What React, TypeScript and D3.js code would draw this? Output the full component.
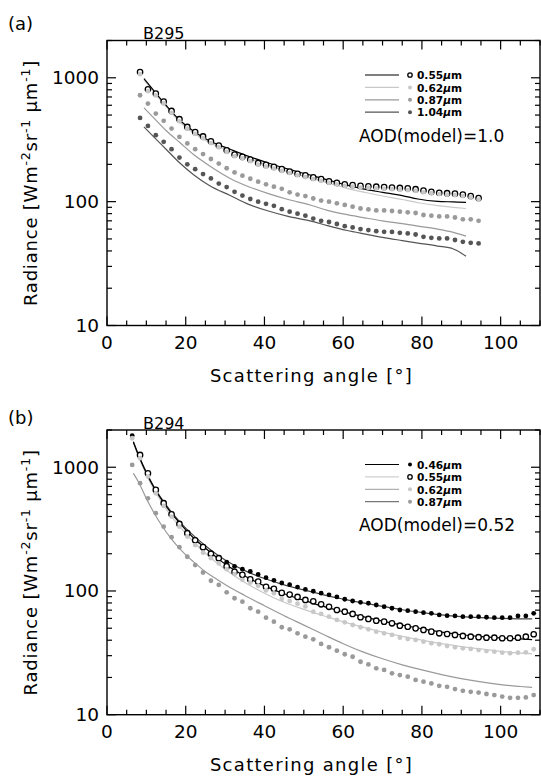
import React from 'react';
import * as d3 from 'd3';

// ---------- Data: panel (a) B295 ----------
const anglesA = [8.4, 10.4, 12.4, 14.4, 16.4, 18.4, 20.4, 22.4, 24.4, 26.4, 28.4, 30.4, 32.4, 34.4, 36.4, 38.4, 40.4, 42.4, 44.4, 46.4, 48.4, 50.4, 52.4, 54.4, 56.4, 58.4, 60.4, 62.4, 64.4, 66.4, 68.4, 70.4, 72.4, 74.4, 76.4, 78.4, 80.4, 82.4, 84.4, 86.4, 88.4, 90.4, 92.4, 94.4];
const obsA055 = [1114, 807, 746, 643, 540, 463, 401, 365, 336, 307, 284, 260, 240, 230, 219, 205, 198, 191, 183, 175, 168, 163, 157, 152, 146, 142, 138, 136, 134, 133, 132, 131, 130, 129, 128, 126, 123, 120, 118, 117, 116, 114, 111, 107];
const obsA062 = [1070, 780, 720, 620, 520, 445, 388, 352, 325, 297, 275, 252, 233, 223, 212, 199, 192, 185, 177, 170, 163, 158, 152, 147, 142, 138, 134, 132, 130, 129, 128, 127, 126, 125, 124, 122, 119, 117, 115, 114, 113, 111, 108, 104];
const obsA087 = [723, 619, 514, 449, 389, 333, 295, 265, 242, 221, 203, 186, 172, 162, 153, 145, 138, 132, 127, 119, 114, 111, 106, 102, 100, 97, 94, 91, 88, 86.5, 85, 85, 84, 83, 82, 81, 78, 77, 76, 76, 74.5, 72, 72, 70];
const obsA104 = [474, 409, 344, 304, 265, 227, 200, 183, 167, 154, 140, 131, 120, 112, 105, 100, 96, 92.5, 87, 83, 80, 77, 73, 70, 68.5, 66, 63.4, 61.9, 60, 58.9, 57.8, 57.1, 57, 56, 55.4, 54.3, 52, 51, 50.5, 50.5, 49, 47.4, 46.5, 46];

const modelAnglesA = [9.4, 12, 15, 18.5, 22, 26, 31.3, 36, 41, 46, 51.6, 56, 61, 66, 70, 75, 79, 84, 88, 91.2];
const modA055 = [986, 780, 600, 454, 370, 310, 265, 232, 205, 183, 164, 150, 136, 125, 119, 112, 105, 100.5, 99.5, 98.6];
const modA062 = [960, 760, 585, 440, 358, 300, 255, 223, 197, 175, 155, 142, 128, 118, 111, 104, 98, 93, 90, 88];
const modA087 = [571, 470, 375, 300, 240, 195, 154, 132, 116, 104, 94, 85, 78.5, 73.5, 70, 66.5, 63.5, 60, 56.5, 52.7];
const modA104 = [401, 330, 265, 205, 165, 135, 112, 95, 84, 76, 70, 64, 58.5, 54.5, 51.5, 48.5, 46.3, 43.8, 41.5, 36.3];

// ---------- Data: panel (b) B294 ----------
const anglesB = [6.4, 8.4, 10.4, 12.4, 14.4, 16.4, 18.4, 20.4, 22.4, 24.4, 26.4, 28.4, 30.4, 32.4, 34.4, 36.4, 38.4, 40.4, 42.4, 44.4, 46.4, 48.4, 50.4, 52.4, 54.4, 56.4, 58.4, 60.4, 62.4, 64.4, 66.4, 68.4, 70.4, 72.4, 74.4, 76.4, 78.4, 80.4, 82.4, 84.4, 86.4, 88.4, 90.4, 92.4, 94.4, 96.4, 98.4, 100.4, 102.4, 104.4, 106.4, 108.4];
const obsB046 = [1800, 1250, 890, 650, 510, 415, 347, 293, 258, 228, 204, 187, 171, 158, 150, 144, 136, 128, 122, 116, 112.5, 107.5, 103, 99.5, 96, 93, 89.5, 85.7, 83, 81, 79.6, 77, 74.7, 72.5, 70.2, 69.3, 68, 66.8, 66, 64, 63.1, 62.8, 62, 62, 62, 61.3, 60.8, 60.8, 60.8, 62.8, 62.8, 66];
const obsB055 = [null, 1257, 894, 656, 512, 417, 348, 293, 257, 226, 200, 184, 158, 143, 135, 124, 119, 108, 104, 96.5, 93.5, 89.5, 84.6, 82.5, 78, 74.5, 70.2, 68, 65.2, 61.3, 59.4, 57.5, 56.5, 54.8, 52.4, 51.4, 49.9, 48.4, 46.9, 45.5, 44.9, 44.1, 43.3, 42.7, 42.3, 41.9, 41.9, 41.5, 41.5, 41.9, 42.7, 44.7];
const obsB062 = [1716, 1183, 840, 616, 487, 399, 331, 275, 235, 204, 184, 167, 150, 137, 123, 117, 110, 101, 95.8, 86, 83, 79, 75, 68, 65.2, 62, 58.3, 55.8, 53.1, 50.9, 49, 46.9, 45.5, 44.1, 41.9, 40.9, 40.2, 38.9, 37.8, 37.1, 35.9, 35.1, 34.4, 34, 33.3, 32.7, 32.3, 31.7, 31.4, 31.7, 31.9, 33.8];
const obsB087 = [1044, 743, 561, 425, 331, 272, 226, 189, 162, 141, 121, 112, 97.6, 87.3, 82, 72.5, 68, 60.8, 56.5, 50.9, 49, 45.5, 42.7, 40.7, 37.3, 35.1, 32.9, 30.8, 29.4, 26.8, 25.5, 23.7, 23, 21.6, 20.9, 20.3, 19.1, 18.5, 17.9, 17.1, 16.8, 16.1, 15.6, 15.3, 15.1, 14.7, 14.4, 14, 13.7, 13.7, 13.8, 14.4];

const modelAnglesB = [6.7, 8, 10, 12, 14, 16, 18, 20, 22, 25, 28, 30, 35, 40, 45, 50, 55, 60, 65, 70, 75, 80, 85, 90, 95, 100, 105, 108];
const modB046 = [1610, 1260, 910, 690, 550, 450, 378, 322, 280, 232, 196, 178, 146, 126, 112, 102, 93, 86, 80, 75, 70.5, 67, 64, 62, 60.8, 60, 59.6, 59.5];
const modB055 = [1600, 1250, 900, 680, 540, 440, 368, 312, 268, 222, 185, 165, 132, 110, 95, 84, 75, 68, 62, 57, 53, 49.5, 46.5, 44.3, 42.7, 41.7, 41, 40.5];
const modB062 = [1560, 1220, 870, 655, 515, 415, 345, 292, 250, 202, 168, 150, 117, 96, 81, 71, 63, 56.5, 51, 46.5, 43, 40, 37.5, 35.5, 34, 32.5, 31.5, 31];
const modB087 = [894, 760, 560, 425, 335, 272, 228, 196, 172, 143, 124, 113, 92, 76, 63, 53, 44.5, 37.5, 32.2, 28.3, 25.3, 23, 21.1, 19.6, 18.4, 17.5, 16.9, 16.6];

// ---------- Axis ticks / labels ----------
const xTickLabels = [0, 20, 40, 60, 80, 100];
const yTickLabels = [10, 100, 1000];
const legendA = ['0.55', '0.62', '0.87', '1.04'];
const legendB = ['0.46', '0.55', '0.62', '0.87'];

const FONT = "'DejaVu Sans', Verdana, sans-serif";
const BLACK = '#000';
const LIGHT = '#c8c8c8';
const MED = '#9a9a9a';
const DARK = '#555';

type Obs = { values: (number | null)[]; kind: 'open' | 'dot'; color: string };
type Mod = { values: number[]; color: string };
type Leg = { label: string; lineColor: string; kind: 'open' | 'dot'; color: string };

interface PanelProps {
  top: number;
  bottom: number;
  tag: string;
  tagY: number;
  name: string;
  nameY: number;
  angles: number[];
  obs: Obs[];
  mAngles: number[];
  mods: Mod[];
  legend: Leg[];
  aod: string;
}

function Marker({ cx, cy, kind, color, r }: { cx: number; cy: number; kind: 'open' | 'dot'; color: string; r?: number }) {
  if (kind === 'open') {
    return <circle cx={cx} cy={cy} r={r ?? 2.7} fill="#fff" stroke={color} strokeWidth={1.3} />;
  }
  return <circle cx={cx} cy={cy} r={r ?? 2.4} fill={color} />;
}

function Panel(p: PanelProps) {
  const left = 107;
  const right = 540;
  const x = d3.scaleLinear().domain([0, 110]).range([left, right]);
  const y = d3.scaleLog().domain([10, 2000]).range([p.bottom, p.top]);
  const line = d3
    .line<number>()
    .x((_, i) => x(p.mAngles[i]))
    .y((d) => y(d))
    .curve(d3.curveMonotoneX);

  const xMinor = d3.range(0, 111, 5);
  const yMinor: number[] = [];
  [10, 100, 1000].forEach((dec) => {
    for (let k = 1; k <= 9; k++) {
      const v = dec * k;
      if (v <= 2000) yMinor.push(v);
    }
  });

  const legX0 = 365;
  const legX1 = 399;
  const legRow0 = p.top + 34.5;
  const legDy = 12.4;

  return (
    <g>
      {p.mods.map((m, i) => (
        <path key={'m' + i} d={line(m.values) || ''} fill="none" stroke={m.color} strokeWidth={1.2} />
      ))}
      {p.obs.map((s, i) => (
        <g key={'o' + i}>
          {s.values.map((v, j) =>
            v == null ? null : (
              <Marker key={j} cx={x(p.angles[j])} cy={y(v)} kind={s.kind} color={s.color} />
            )
          )}
        </g>
      ))}

      <rect x={left} y={p.top} width={right - left} height={p.bottom - p.top} fill="none" stroke="#000" strokeWidth={1.4} />

      {xMinor.map((t) => {
        const len = t % 20 === 0 ? 9 : 5;
        return (
          <g key={'xt' + t}>
            <line x1={x(t)} x2={x(t)} y1={p.bottom} y2={p.bottom - len} stroke="#000" strokeWidth={1.2} />
            <line x1={x(t)} x2={x(t)} y1={p.top} y2={p.top + len} stroke="#000" strokeWidth={1.2} />
          </g>
        );
      })}
      {yMinor.map((v) => {
        const major = v === 10 || v === 100 || v === 1000;
        const len = major ? 9 : 5;
        return (
          <g key={'yt' + v}>
            <line x1={left} x2={left + len} y1={y(v)} y2={y(v)} stroke="#000" strokeWidth={1.2} />
            <line x1={right} x2={right - len} y1={y(v)} y2={y(v)} stroke="#000" strokeWidth={1.2} />
          </g>
        );
      })}

      {xTickLabels.map((t) => (
        <text key={'xl' + t} x={x(t)} y={p.bottom + 23} textAnchor="middle" fontFamily={FONT} fontSize={18.5}>
          {t}
        </text>
      ))}
      {yTickLabels.map((t) => (
        <text key={'yl' + t} x={99} y={y(t) + 6.5} textAnchor="end" fontFamily={FONT} fontSize={18.5}>
          {t}
        </text>
      ))}

      <text x={(left + right) / 2 - 12} y={p.bottom + 56} textAnchor="middle" fontFamily={FONT} fontSize={18} letterSpacing={1.3}>
        Scattering angle [°]
      </text>
      <text
        transform={`translate(37, ${(p.top + p.bottom) / 2}) rotate(-90)`}
        textAnchor="middle"
        fontFamily={FONT}
        fontSize={18}
        letterSpacing={0.8}
      >
        <tspan>Radiance [Wm</tspan>
        <tspan dy={-7} fontSize={12.5}>-2</tspan>
        <tspan dy={7}>sr</tspan>
        <tspan dy={-7} fontSize={12.5}>-1</tspan>
        <tspan dy={7}> μm</tspan>
        <tspan dy={-7} fontSize={12.5}>-1</tspan>
        <tspan dy={7}>]</tspan>
      </text>

      <text x={8} y={p.tagY} fontFamily={FONT} fontSize={18}>
        {p.tag}
      </text>
      <text x={143} y={p.nameY} fontFamily={FONT} fontSize={16}>
        {p.name}
      </text>

      {p.legend.map((l, i) => {
        const ry = legRow0 + i * legDy;
        return (
          <g key={'lg' + i}>
            <line x1={legX0} x2={legX1} y1={ry} y2={ry} stroke={l.lineColor} strokeWidth={1.2} />
            <Marker cx={410} cy={ry} kind={l.kind} color={l.color} r={l.kind === 'open' ? 2.2 : 2} />
            <text x={417} y={ry + 4.2} fontFamily={FONT} fontSize={10.6} fontWeight="bold">
              {l.label}
              <tspan fontStyle="italic">μ</tspan>m
            </text>
          </g>
        );
      })}
      <text x={359} y={p.top + 101} fontFamily={FONT} fontSize={17}>
        {p.aod}
      </text>
    </g>
  );
}

export default function App() {
  return (
    <svg width={541} height={776} style={{ position: 'absolute', left: 0, top: 0, background: '#fff' }}>
      <rect x={0} y={0} width={541} height={776} fill="#fff" />
      <Panel
        top={40.5}
        bottom={325.5}
        tag="(a)"
        tagY={30}
        name="B295"
        nameY={39}
        angles={anglesA}
        obs={[
          { values: obsA104, kind: 'dot', color: DARK },
          { values: obsA087, kind: 'dot', color: MED },
          { values: obsA055, kind: 'open', color: BLACK },
          { values: obsA062, kind: 'dot', color: LIGHT },
        ]}
        mAngles={modelAnglesA}
        mods={[
          { values: modA062, color: LIGHT },
          { values: modA087, color: MED },
          { values: modA104, color: DARK },
          { values: modA055, color: BLACK },
        ]}
        legend={[
          { label: legendA[0], lineColor: BLACK, kind: 'open', color: BLACK },
          { label: legendA[1], lineColor: LIGHT, kind: 'dot', color: LIGHT },
          { label: legendA[2], lineColor: MED, kind: 'dot', color: MED },
          { label: legendA[3], lineColor: DARK, kind: 'dot', color: DARK },
        ]}
        aod="AOD(model)=1.0"
      />
      <Panel
        top={430}
        bottom={714.7}
        tag="(b)"
        tagY={424}
        name="B294"
        nameY={429}
        angles={anglesB}
        obs={[
          { values: obsB087, kind: 'dot', color: MED },
          { values: obsB046, kind: 'dot', color: BLACK },
          { values: obsB055, kind: 'open', color: BLACK },
          { values: obsB062, kind: 'dot', color: LIGHT },
        ]}
        mAngles={modelAnglesB}
        mods={[
          { values: modB087, color: MED },
          { values: modB062, color: LIGHT },
          { values: modB046, color: '#444' },
          { values: modB055, color: BLACK },
        ]}
        legend={[
          { label: legendB[0], lineColor: BLACK, kind: 'dot', color: BLACK },
          { label: legendB[1], lineColor: '#d0d0d0', kind: 'open', color: BLACK },
          { label: legendB[2], lineColor: '#b0b0b0', kind: 'dot', color: LIGHT },
          { label: legendB[3], lineColor: '#777', kind: 'dot', color: MED },
        ]}
        aod="AOD(model)=0.52"
      />
    </svg>
  );
}
